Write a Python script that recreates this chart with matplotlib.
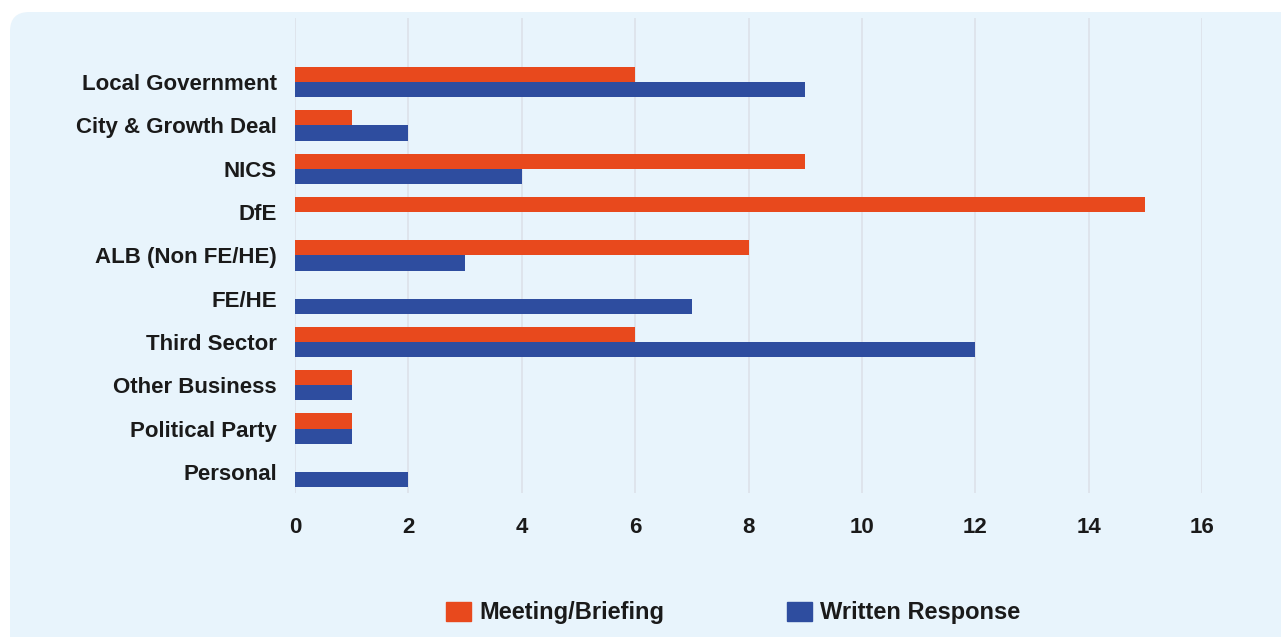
import matplotlib
matplotlib.use("Agg")
import matplotlib.pyplot as plt
import numpy as np
from matplotlib.patches import FancyBboxPatch, Patch

# data
categories = ['Local Government', 'City & Growth Deal', 'NICS', 'DfE',
              'ALB (Non FE/HE)', 'FE/HE', 'Third Sector', 'Other Business',
              'Political Party', 'Personal']
meeting = [6, 1, 9, 15, 8, 0, 6, 1, 1, 0]
written = [9, 2, 4, 0, 3, 7, 12, 1, 1, 2]
xticks = [0, 2, 4, 6, 8, 10, 12, 14, 16]

orange = '#E8491D'
blue = '#2E4D9F'
panel = '#E8F4FC'
txt = '#1a1a1a'

plt.rcParams['font.family'] = ['Liberation Sans', 'DejaVu Sans']
plt.rcParams['font.weight'] = 'bold'

W, H = 1281, 637
fig = plt.figure(figsize=(W/100, H/100), dpi=100, facecolor='white')

# rounded light-blue panel behind the chart
bg = FancyBboxPatch((10/W, -0.1), 1.2, 1 - 12/H + 0.1,
                    boxstyle='round,pad=0,rounding_size=0.015',
                    transform=fig.transFigure, facecolor=panel,
                    edgecolor='none', zorder=-10,
                    mutation_aspect=W/H)
fig.patches.append(bg)

ax = fig.add_axes([295/W, 1 - 493/H, (1202 - 295)/W, (493 - 18)/H])
ax.set_facecolor('none')

y = np.arange(len(categories))
h = 0.35
ax.barh(y - h/2, meeting, height=h, color=orange, zorder=3)
ax.barh(y + h/2, written, height=h, color=blue, zorder=3)

ax.set_xlim(0, 16)
ax.set_ylim(9 + 21/43.33, -64/43.33)
ax.set_xticks(xticks)
ax.set_yticks(y)
ax.set_yticklabels(categories)
ax.grid(axis='x', color='#DDE3EB', linewidth=1.3, zorder=0)
for s in ax.spines.values():
    s.set_visible(False)
ax.tick_params(axis='both', length=0, labelsize=16, colors=txt)
ax.tick_params(axis='y', pad=13)
ax.tick_params(axis='x', pad=17)

handles = [Patch(color=orange, label='Meeting/Briefing'),
           Patch(color=blue, label='Written Response')]
leg = fig.legend(handles=handles, loc='center', bbox_to_anchor=(733/W, 1 - 613/H),
                 ncol=2, frameon=False, fontsize=17, handlelength=1.05,
                 handleheight=0.9, handletextpad=0.35, columnspacing=5.2)
for t in leg.get_texts():
    t.set_color(txt)

fig.savefig('out.png', dpi=100, facecolor='white')
